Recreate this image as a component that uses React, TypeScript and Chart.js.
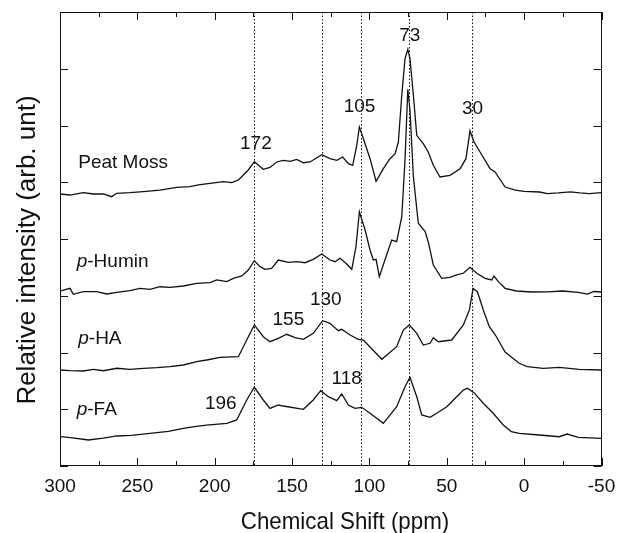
import React, { useEffect, useRef } from "react";
import { Chart, registerables } from "chart.js";

Chart.register(...registerables);

// ---- Data (chemical shift in ppm, stacked relative intensity) ----
const peatMossPpm = [300, 293.5, 284.9, 278.5, 272, 266.6, 263.3, 254.8, 246.2, 235.4, 224.6, 216, 210.6, 203, 194.4, 189, 184.7, 181.5, 178.3, 174.4, 168.6, 164.3, 159.9, 155.7, 151.3, 147, 142.7, 138.4, 130.8, 125.5, 121.1, 117.3, 113.6, 110.8, 108.2, 106.5, 103.9, 99.6, 95.7, 91, 86.7, 83.4, 81.3, 79.1, 77, 75.2, 73.8, 71.6, 69.4, 65.2, 62, 58.7, 54.4, 47.9, 41.4, 37.6, 35, 32.4, 28.5, 22, 18.8, 12.3, 5.7, 0, -10, -15, -22, -30, -36, -42, -50];
const peatMossVal = [4.793, 4.775, 4.816, 4.793, 4.793, 4.746, 4.805, 4.816, 4.834, 4.863, 4.91, 4.922, 4.952, 4.981, 5.01, 4.992, 5.04, 5.128, 5.216, 5.362, 5.228, 5.26, 5.357, 5.387, 5.369, 5.404, 5.344, 5.357, 5.485, 5.415, 5.387, 5.445, 5.327, 5.299, 5.651, 5.974, 5.767, 5.415, 5.017, 5.239, 5.415, 5.503, 5.709, 6.532, 7.177, 7.343, 7.177, 6.532, 5.827, 5.679, 5.533, 5.299, 5.093, 5.122, 5.239, 5.415, 5.903, 5.709, 5.533, 5.239, 5.181, 4.916, 4.863, 4.84, 4.828, 4.8, 4.811, 4.83, 4.811, 4.8, 4.816];

const huminPpm = [300, 298.9, 293.5, 291.4, 284.9, 276.3, 269.8, 263.3, 254.8, 248.3, 241.8, 235.4, 228.9, 220.3, 211.6, 203, 198.7, 192.2, 188, 182.5, 178.3, 174.4, 170.7, 167.5, 163.2, 158.9, 152.4, 147, 141.6, 136.3, 130.8, 125.5, 122.2, 119, 114.7, 111.4, 108.7, 106.5, 102.8, 99.6, 97.5, 95.7, 93.6, 90, 85.6, 82.4, 79.1, 77, 75.2, 73.8, 71.6, 68.4, 64, 62, 58.7, 53.3, 47.9, 43.6, 39.3, 35, 30.6, 25.3, 20.9, 19.5, 16.7, 12.3, 5, -5, -15, -25, -35, -41, -45, -50];
const huminVal = [3.08, 3.089, 3.131, 3.026, 3.071, 3.071, 3.031, 3.061, 3.089, 3.131, 3.114, 3.159, 3.149, 3.172, 3.219, 3.23, 3.278, 3.248, 3.307, 3.348, 3.454, 3.618, 3.512, 3.466, 3.484, 3.63, 3.589, 3.6, 3.582, 3.642, 3.736, 3.63, 3.6, 3.66, 3.559, 3.466, 3.864, 4.481, 4.159, 3.806, 3.63, 3.642, 3.336, 3.63, 3.982, 3.952, 4.393, 5.392, 6.638, 6.273, 5.098, 4.277, 4.129, 3.952, 3.542, 3.307, 3.325, 3.366, 3.396, 3.501, 3.396, 3.307, 3.278, 3.348, 3.248, 3.131, 3.084, 3.066, 3.07, 3.084, 3.06, 3.03, 3.075, 3.066];

const haPpm = [300, 293.5, 284.9, 278.5, 272, 263.3, 254.8, 246.2, 237.5, 228.9, 220.3, 211.6, 205.2, 196.6, 184.7, 179.3, 174.4, 168.6, 164.3, 158.9, 153.5, 148.1, 142.7, 136.3, 130.2, 125.5, 120.1, 117.9, 112.5, 107.2, 103.9, 92, 82.4, 78.1, 74.2, 69.4, 65.2, 60.8, 58.7, 55.5, 46.8, 39.3, 35.4, 33, 30.2, 26.4, 22.5, 18.6, 12.3, 8.3, 3.2, -2, -12.3, -22.7, -35.6, -50];
const haVal = [1.692, 1.679, 1.674, 1.704, 1.679, 1.722, 1.704, 1.722, 1.732, 1.75, 1.78, 1.838, 1.868, 1.915, 1.926, 2.22, 2.485, 2.278, 2.19, 2.25, 2.321, 2.261, 2.233, 2.338, 2.56, 2.515, 2.384, 2.409, 2.308, 2.233, 2.22, 1.88, 2.102, 2.396, 2.485, 2.338, 2.132, 2.162, 2.261, 2.19, 2.22, 2.485, 2.749, 3.131, 3.071, 2.749, 2.455, 2.308, 2.009, 1.921, 1.81, 1.75, 1.722, 1.739, 1.704, 1.692];

const faPpm = [300, 293, 281.7, 272, 263.3, 254, 241.8, 230, 220.3, 212, 205.2, 192.2, 185.8, 179.3, 174.4, 168.6, 164.3, 158.9, 155.7, 142.7, 136.3, 131.5, 126.6, 121.1, 117.9, 113.6, 109.3, 105, 99.6, 91, 82.4, 77, 73.8, 69.4, 66.2, 60.8, 56.5, 50, 43.6, 39.3, 36.7, 32.4, 26.4, 20, 13.5, 8.3, 3.2, -9.8, -22.7, -27.8, -35, -50];
const faVal = [0.516, 0.5, 0.458, 0.49, 0.529, 0.54, 0.576, 0.61, 0.664, 0.7, 0.722, 0.752, 0.811, 1.163, 1.387, 1.163, 1.016, 1.075, 1.057, 0.999, 1.163, 1.327, 1.221, 1.151, 1.269, 1.075, 1.016, 1.034, 0.929, 0.752, 1.045, 1.397, 1.563, 1.221, 0.899, 0.858, 0.929, 1.045, 1.221, 1.339, 1.369, 1.292, 1.105, 0.929, 0.722, 0.606, 0.576, 0.546, 0.516, 0.563, 0.505, 0.488];

// dotted reference lines (ppm)
const dottedPpm = [174.4, 130.8, 105.6, 74.6, 33.9];

// peak annotations
const peakLabels = ["172", "105", "73", "30", "130", "155", "118", "196"];
const peakLabelPpm = [173.4, 106.4, 73.9, 33.4, 128.2, 152.4, 114.7, 196.1];
const peakLabelVal = [5.674, 6.335, 7.574, 6.294, 2.925, 2.573, 1.537, 1.093];

// sample names (italic prefix + regular rest)
const sampleItalic = ["", "p", "p", "p"];
const sampleRest = ["Peat Moss", "-Humin", "-HA", "-FA"];
const samplePpm = [288.2, 289.2, 288.2, 289.2];
const sampleVal = [5.339, 3.595, 2.238, 0.987];

const xTitle = "Chemical Shift (ppm)";
const yTitle = "Relative intensity (arb. unt)";

const xMin = -50;
const xMax = 300;
const yMin = 0;
const yMax = 8;

const FONT = '"Liberation Sans", Arial, Helvetica, sans-serif';
const INK = "#111111";

const decorations = {
  id: "decorations",
  beforeDatasetsDraw(chart: any) {
    const { ctx, chartArea } = chart;
    const xs = chart.scales.x;
    ctx.save();
    ctx.strokeStyle = INK;
    ctx.lineWidth = 1;
    ctx.setLineDash([1.5, 2]);
    dottedPpm.forEach((p) => {
      const px = Math.round(xs.getPixelForValue(p)) + 0.5;
      ctx.beginPath();
      ctx.moveTo(px, chartArea.top);
      ctx.lineTo(px, chartArea.bottom);
      ctx.stroke();
    });
    ctx.restore();
  },
  afterDatasetsDraw(chart: any) {
    const { ctx, chartArea } = chart;
    const { left, right, top, bottom } = chartArea;
    const xs = chart.scales.x;
    const ys = chart.scales.y;
    ctx.save();
    ctx.strokeStyle = INK;
    ctx.lineWidth = 1;
    ctx.setLineDash([]);
    // frame
    ctx.strokeRect(Math.round(left) + 0.5, Math.round(top) + 0.5, Math.round(right - left) - 1, Math.round(bottom - top) - 1);
    // x ticks (inward, top and bottom)
    xs.ticks.forEach((t: any) => {
      const px = Math.round(xs.getPixelForValue(t.value)) + 0.5;
      const len = t.value % 50 === 0 ? 8 : 5;
      ctx.beginPath();
      ctx.moveTo(px, bottom);
      ctx.lineTo(px, bottom - len);
      ctx.moveTo(px, top);
      ctx.lineTo(px, top + len);
      ctx.stroke();
    });
    // y ticks (inward, left and right)
    for (let v = yMin; v <= yMax; v += 1) {
      const py = Math.round(ys.getPixelForValue(v)) + 0.5;
      ctx.beginPath();
      ctx.moveTo(left, py);
      ctx.lineTo(left + 8, py);
      ctx.moveTo(right, py);
      ctx.lineTo(right - 8, py);
      ctx.stroke();
    }
    // peak labels
    ctx.fillStyle = INK;
    ctx.font = `19px ${FONT}`;
    ctx.textAlign = "center";
    ctx.textBaseline = "middle";
    peakLabels.forEach((txt, i) => {
      ctx.fillText(txt, xs.getPixelForValue(peakLabelPpm[i]), ys.getPixelForValue(peakLabelVal[i]));
    });
    // sample names
    ctx.textAlign = "left";
    sampleRest.forEach((rest, i) => {
      let x = xs.getPixelForValue(samplePpm[i]);
      const y = ys.getPixelForValue(sampleVal[i]);
      if (sampleItalic[i]) {
        ctx.font = `italic 19px ${FONT}`;
        ctx.fillText(sampleItalic[i], x, y);
        x += ctx.measureText(sampleItalic[i]).width;
      }
      ctx.font = `19px ${FONT}`;
      ctx.fillText(rest, x, y);
    });
    // x-axis title (slightly condensed, as in the original)
    ctx.save();
    ctx.font = `24px ${FONT}`;
    ctx.textAlign = "center";
    ctx.textBaseline = "alphabetic";
    ctx.translate(345, 529);
    ctx.scale(0.93, 1);
    ctx.fillText(xTitle, 0, 0);
    ctx.restore();
    // y-axis title
    ctx.save();
    ctx.font = `26px ${FONT}`;
    ctx.textAlign = "center";
    ctx.textBaseline = "alphabetic";
    ctx.translate(35, 250);
    ctx.rotate(-Math.PI / 2);
    ctx.fillText(yTitle, 0, 0);
    ctx.restore();
    ctx.restore();
  },
};

function makeDataset(ppm: number[], val: number[]) {
  return {
    data: ppm.map((p, i) => ({ x: p, y: val[i] })),
    borderColor: INK,
    borderWidth: 1.3,
    pointRadius: 0,
    fill: false,
    tension: 0,
  };
}

export default function App() {
  const ref = useRef<HTMLCanvasElement | null>(null);
  useEffect(() => {
    if (!ref.current) return;
    const chart = new Chart(ref.current, {
      type: "line",
      data: {
        datasets: [
          makeDataset(peatMossPpm, peatMossVal),
          makeDataset(huminPpm, huminVal),
          makeDataset(haPpm, haVal),
          makeDataset(faPpm, faVal),
        ],
      },
      options: {
        animation: false,
        responsive: false,
        events: [],
        layout: { padding: { left: 60, right: 23.5, top: 12, bottom: 0 } },
        plugins: { legend: { display: false }, tooltip: { enabled: false } },
        scales: {
          x: {
            type: "linear",
            reverse: true,
            min: xMin,
            max: xMax,
            ticks: {
              stepSize: 25,
              autoSkip: false,
              maxRotation: 0,
              padding: 9,
              color: INK,
              font: { family: FONT, size: 19 },
              callback: (v: any) => (Number(v) % 50 === 0 ? String(v) : ""),
            },
            grid: { display: false, drawTicks: false },
            border: { display: false },
            title: { display: false },
            afterFit: (s: any) => {
              s.height = 67;
            },
          },
          y: { type: "linear", min: yMin, max: yMax, display: false },
        },
      },
      plugins: [decorations],
    } as any);
    return () => chart.destroy();
  }, []);
  return (
    <div style={{ position: "fixed", left: 0, top: 0, width: 625, height: 533, background: "#fff" }}>
      <canvas ref={ref} width={625} height={533} style={{ width: 625, height: 533, display: "block" }} />
    </div>
  );
}
